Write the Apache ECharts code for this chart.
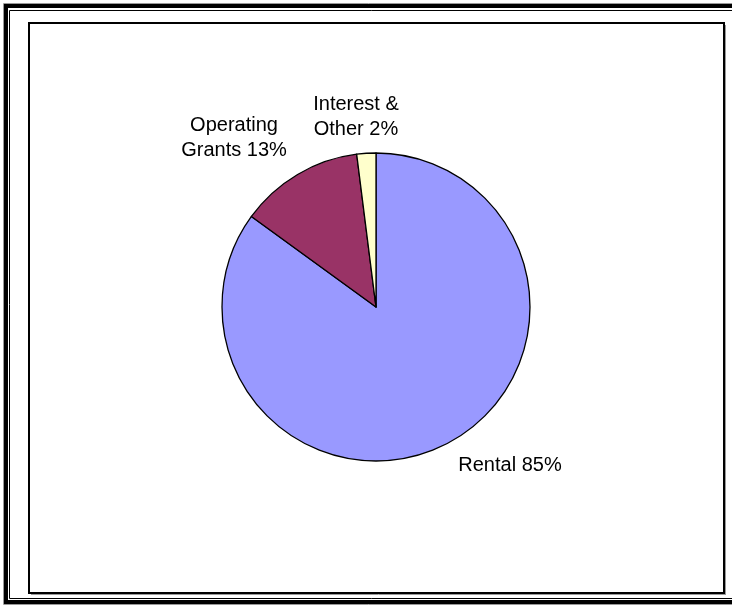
<!DOCTYPE html>
<html>
<head>
<meta charset="utf-8">
<style>
html,body{margin:0;padding:0;background:#fff;}
#chart{width:732px;height:607px;}
</style>
<script src="https://cdn.jsdelivr.net/npm/echarts@6/dist/echarts.min.js"></script>
</head>
<body>
<div id="chart"></div>
<script>
var categories = ['Rental', 'Operating Grants', 'Interest & Other'];
var values = [85, 13, 2];
var labelTexts = ['Rental 85%', 'Operating\nGrants 13%', 'Interest &\nOther 2%'];
var colors = ['#9999FF', '#993366', '#FFFFCC'];

var chart = echarts.init(document.getElementById('chart'));
var labelPos = [[510, 465], [234, 138], [356, 117]];
chart.setOption({
  animation: false,
  graphic: [
    {type:'rect', shape:{x:3.5, y:3.5, width:740, height:601}, style:{fill:'none', stroke:'#999', lineWidth:1}},
    {type:'rect', shape:{x:6, y:6, width:740, height:596}, style:{fill:'none', stroke:'#000', lineWidth:4}},
    {type:'rect', shape:{x:9.5, y:10.5, width:740, height:588}, style:{fill:'none', stroke:'#000', lineWidth:1}},
    {type:'rect', shape:{x:29, y:23, width:695, height:570}, style:{fill:'none', stroke:'#000', lineWidth:2}},
    {type:'line', shape:{x1:31, y1:594.5, x2:726, y2:594.5}, style:{stroke:'#999', lineWidth:1}},
    {type:'line', shape:{x1:725.5, y1:25, x2:725.5, y2:595}, style:{stroke:'#999', lineWidth:1}}
  ],
  series: [{
    type: 'pie',
    center: [376, 307],
    radius: 154,
    startAngle: 90,
    clockwise: true,
    data: categories.map(function (c, i) {
      return {name: c, value: values[i], itemStyle: {color: colors[i]}};
    }),
    itemStyle: {borderColor: '#000', borderWidth: 1.3},
    emphasis: {disabled: true},
    labelLine: {show: false},
    label: {
      show: true,
      position: 'outside',
      formatter: function (p) { return labelTexts[p.dataIndex]; },
      fontFamily: 'Liberation Sans, Arial, sans-serif',
      fontSize: 20,
      lineHeight: 25,
      color: '#000',
      align: 'center'
    },
    labelLayout: function (p) {
      var pos = labelPos[p.dataIndex];
      return {x: pos[0], y: pos[1], align: 'center', verticalAlign: 'middle', hideOverlap: false};
    }
  }]
});
</script>
</body>
</html>
